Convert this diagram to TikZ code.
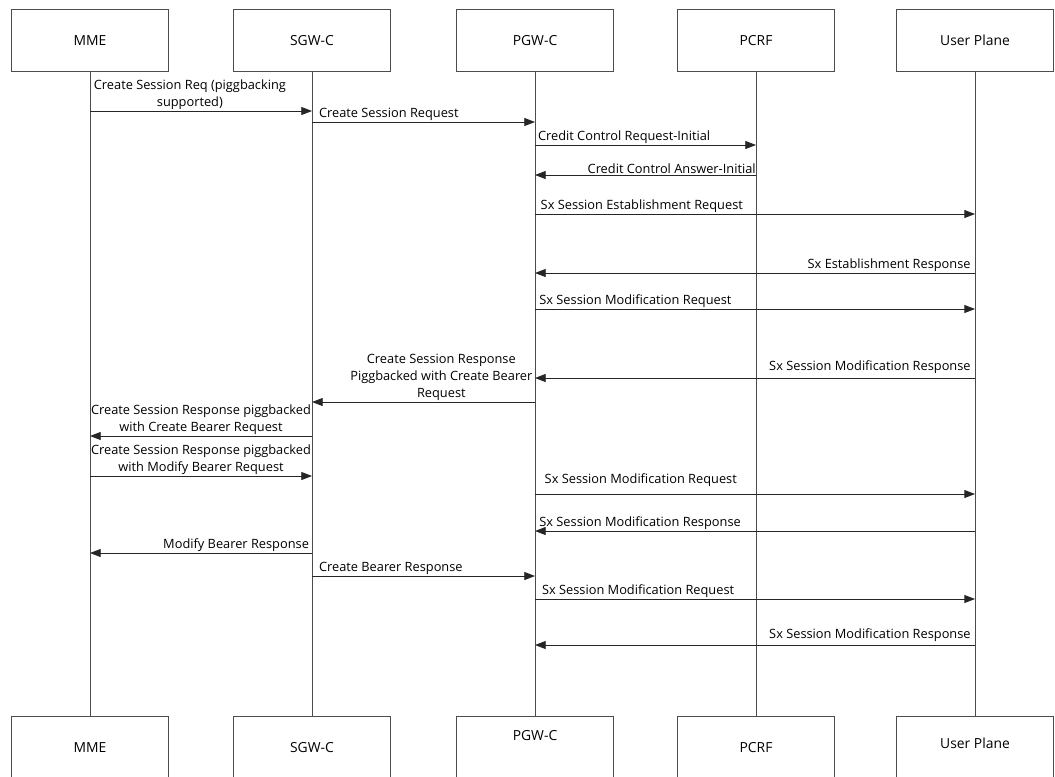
\documentclass[tikz,border=0pt]{standalone}
\usepackage{fontspec}
\setmainfont{Open Sans}
\usetikzlibrary{arrows.meta, positioning}

\tikzset{
    entity/.style={draw=black!70, line width=0.7pt, minimum width=118pt, minimum height=47pt, inner sep=0pt, font=\fontsize{10.4}{12}\selectfont},
    life/.style={draw=black!70, line width=0.7pt},
    msg/.style={draw=black!85, line width=0.6pt, -{Triangle[length=8pt,width=6pt]}},
    lbl/.style={font=\fontsize{9.6}{12.7}\selectfont, inner sep=1pt, align=center}
}

\begin{document}
\begin{tikzpicture}[x=0.75pt, y=-0.75pt]
    \useasboundingbox (0,0) rectangle (1055,776);

    \node[entity] (mme) at (90,40.5) {MME};
    \node[entity] (sgw) at (312,40.5) {SGW-C};
    \node[entity] (pgw) at (535,40.5) {PGW-C};
    \node[entity] (pcrf) at (756,40.5) {PCRF};
    \node[entity] (up) at (975,40.5) {User Plane};

    \node[entity] (mmeB) at (90,747.5) {MME};
    \node[entity] (sgwB) at (312,747.5) {SGW-C};
    \node[entity, text depth=18pt] (pgwB) at (535,747.5) {PGW-C};
    \node[entity] (pcrfB) at (756,747.5) {PCRF};
    \node[entity, text depth=6pt] (upB) at (975,747.5) {User Plane};

    \draw[life] (mme) -- (mmeB);
    \draw[life] (sgw) -- (sgwB);
    \draw[life] (pgw) -- (pgwB);
    \draw[life] (pcrf) -- (pcrfB);
    \draw[life] (up) -- (upB);

    \draw[msg] (mme |- 0,111) -- (sgw |- 0,111)
        node[lbl, above, pos=0.45] {Create Session Req (piggbacking\\supported)};
    \draw[msg] (sgw |- 0,122) node[lbl, above right, xshift=4pt] {Create Session Request} -- (pgw |- 0,122);
    \draw[msg] (pgw |- 0,145) node[lbl, above right, xshift=1pt] {Credit Control Request-Initial} -- (pcrf |- 0,145);
    \draw[msg] (pcrf |- 0,175) node[lbl, above left, xshift=1pt] {Credit Control Answer-Initial} -- (pgw |- 0,175);
    \draw[msg] (pgw |- 0,214) node[lbl, above right, xshift=3pt] {Sx Session Establishment Request} -- (up |- 0,214);
    \draw[msg] (up |- 0,273) node[lbl, above left, xshift=-2pt] {Sx Establishment Response} -- (pgw |- 0,273);
    \draw[msg] (pgw |- 0,309) node[lbl, above right, xshift=2pt] {Sx Session Modification Request} -- (up |- 0,309);
    \draw[msg] (up |- 0,378) node[lbl, above left, xshift=-2pt, yshift=2pt] {Sx Session Modification Response} -- (pgw |- 0,378);
    \draw[msg] (pgw |- 0,402) -- (sgw |- 0,402)
        node[lbl, above, pos=0.42] {Create Session Response\\Piggbacked with Create Bearer\\Request};
    \draw[msg] (sgw |- 0,436) -- (mme |- 0,436)
        node[lbl, above, pos=0.5] {Create Session Response piggbacked\\with Create Bearer Request};
    \draw[msg] (mme |- 0,476) -- (sgw |- 0,476)
        node[lbl, above, pos=0.5] {Create Session Response piggbacked\\with Modify Bearer Request};
    \draw[msg] (pgw |- 0,494) node[lbl, above right, xshift=6pt, yshift=4pt] {Sx Session Modification Request} -- (up |- 0,494);
    \draw[msg] (up |- 0,531) -- (pgw |- 0,531) node[lbl, above right, xshift=2pt] {Sx Session Modification Response};
    \draw[msg] (sgw |- 0,553) node[lbl, above left, xshift=-1pt] {Modify Bearer Response} -- (mme |- 0,553);
    \draw[msg] (sgw |- 0,576) node[lbl, above right, xshift=4pt] {Create Bearer Response} -- (pgw |- 0,576);
    \draw[msg] (pgw |- 0,599) node[lbl, above right, xshift=4pt] {Sx Session Modification Request} -- (up |- 0,599);
    \draw[msg] (up |- 0,645) node[lbl, above left, xshift=-2pt, yshift=1pt] {Sx Session Modification Response} -- (pgw |- 0,645);
\end{tikzpicture}
\end{document}
